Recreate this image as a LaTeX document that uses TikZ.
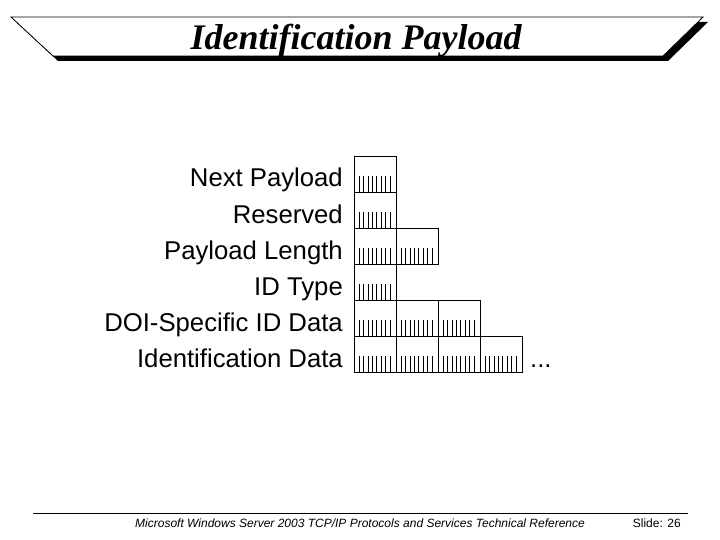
\documentclass[tikz,border=0pt]{standalone}
\usepackage{fontspec}
\setmainfont{Liberation Sans}
\newfontfamily\titlefont{Liberation Serif}
\begin{document}
\begin{tikzpicture}[x=1pt,y=-1pt,
  lbl/.style={anchor=base east, inner sep=0pt, font=\fontsize{25.7}{28}\selectfont},
  octet/.style={draw, line width=0.9pt, minimum width=42pt, minimum height=36pt, inner sep=0pt, anchor=north west,
    path picture={\foreach \i in {0,...,7} \draw[line width=0.9pt] ([xshift={4.8pt+\i*4.4pt}]path picture bounding box.south west) -- ++(0pt,16pt);}},
  banner/.style={fill=white, draw=black, line width=0.8pt},
  rule/.style={line width=0.9pt}]
\useasboundingbox (0,0) rectangle (720,540);
% title banner
\fill[black] (16,22) -- (708,22) -- (668,61) -- (58,61) -- cycle;
\filldraw[banner] (11,17) -- (703,17) -- (663,56) -- (53,56) -- cycle;
\node[anchor=base, inner sep=0pt, font=\titlefont\bfseries\itshape\fontsize{36}{40}\selectfont] (title) at (356,50) {Identification Payload};
% labels
\node[lbl] (l1) at (343,187) {Next Payload};
\node[lbl] (l2) at (343,223) {Reserved};
\node[lbl] (l3) at (343,259) {Payload Length};
\node[lbl] (l4) at (343,295) {ID Type};
\node[lbl] (l5) at (343,331) {DOI-Specific ID Data};
\node[lbl] (l6) at (343,367) {Identification Data};
% octets
\node[octet] (r1c1) at (354,156) {};
\node[octet] (r2c1) at (354,192) {};
\node[octet] (r3c1) at (354,228) {};
\node[octet] (r3c2) at (396,228) {};
\node[octet] (r4c1) at (354,264) {};
\node[octet] (r5c1) at (354,300) {};
\node[octet] (r5c2) at (396,300) {};
\node[octet] (r5c3) at (438,300) {};
\node[octet] (r6c1) at (354,336) {};
\node[octet] (r6c2) at (396,336) {};
\node[octet] (r6c3) at (438,336) {};
\node[octet] (r6c4) at (480,336) {};
\node[anchor=base west, inner sep=0pt, font=\fontsize{25.7}{28}\selectfont] (dots) at (530,367) {...};
% footer
\coordinate (fl) at (33,513);
\coordinate (fr) at (688,513);
\draw[rule] (fl) -- (fr);
\node[anchor=base west, inner sep=0pt, font=\itshape\fontsize{12}{14}\selectfont] (ref) at (135,527) {Microsoft Windows Server 2003 TCP/IP Protocols and Services Technical Reference};
\node[anchor=base west, inner sep=0pt, font=\fontsize{12}{14}\selectfont] (slide) at (632.7,527) {Slide: 26};
\end{tikzpicture}
\end{document}
